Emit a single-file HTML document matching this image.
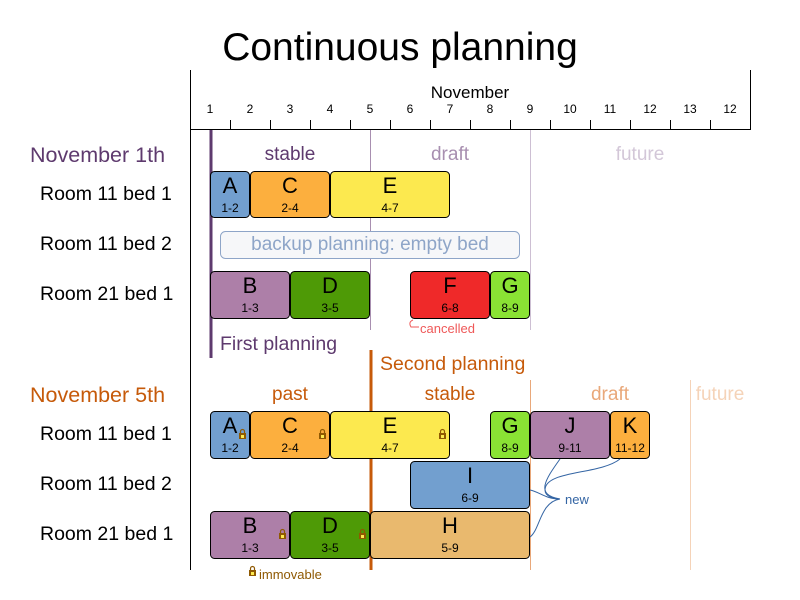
<!DOCTYPE html>
<html><head><meta charset="utf-8"><style>
html,body{margin:0;padding:0;background:#fff}
svg{display:block;font-family:"Liberation Sans",Arial,sans-serif}
</style></head><body>
<svg width="800" height="600" viewBox="0 0 800 600" xmlns="http://www.w3.org/2000/svg">
<text x="400" y="60" font-size="39" text-anchor="middle">Continuous planning</text>
<line x1="190.5" y1="70" x2="190.5" y2="570" stroke="#000"/>
<line x1="750.5" y1="70" x2="750.5" y2="130" stroke="#000"/>
<line x1="190" y1="129.5" x2="751" y2="129.5" stroke="#000"/>
<text x="470" y="98" font-size="17" text-anchor="middle">November</text>
<g font-size="12" text-anchor="middle">
<text x="210" y="113">1</text><text x="250" y="113">2</text><text x="290" y="113">3</text><text x="330" y="113">4</text><text x="370" y="113">5</text><text x="410" y="113">6</text><text x="450" y="113">7</text><text x="490" y="113">8</text><text x="530" y="113">9</text><text x="570" y="113">10</text><text x="610" y="113">11</text><text x="650" y="113">12</text><text x="690" y="113">13</text><text x="730" y="113">12</text>
</g>
<g stroke="#000">
<line x1="230.5" y1="120" x2="230.5" y2="129"/><line x1="270.5" y1="120" x2="270.5" y2="129"/><line x1="310.5" y1="120" x2="310.5" y2="129"/><line x1="350.5" y1="120" x2="350.5" y2="129"/><line x1="390.5" y1="120" x2="390.5" y2="129"/><line x1="430.5" y1="120" x2="430.5" y2="129"/><line x1="470.5" y1="120" x2="470.5" y2="129"/><line x1="510.5" y1="120" x2="510.5" y2="129"/><line x1="550.5" y1="120" x2="550.5" y2="129"/><line x1="590.5" y1="120" x2="590.5" y2="129"/><line x1="630.5" y1="120" x2="630.5" y2="129"/><line x1="670.5" y1="120" x2="670.5" y2="129"/><line x1="710.5" y1="120" x2="710.5" y2="129"/>
</g>
<line x1="370.5" y1="130" x2="370.5" y2="330" stroke="#a88fb0"/>
<line x1="530.5" y1="130" x2="530.5" y2="330" stroke="#cdbfd3"/>
<line x1="211" y1="130" x2="211" y2="358" stroke="#5e3a6e" stroke-width="3"/>
<text x="30" y="162" font-size="21.5" fill="#5e3a6e">November 1th</text>
<text x="290" y="160" font-size="19" fill="#5e3a6e" text-anchor="middle">stable</text>
<text x="450" y="160" font-size="19" fill="#a88fb0" text-anchor="middle">draft</text>
<text x="640" y="160" font-size="19" fill="#d3c7d8" text-anchor="middle">future</text>
<g font-size="19.5"><text x="40" y="200">Room 11 bed 1</text><text x="40" y="250">Room 11 bed 2</text><text x="40" y="300">Room 21 bed 1</text>
<text x="40" y="440">Room 11 bed 1</text><text x="40" y="490">Room 11 bed 2</text><text x="40" y="540">Room 21 bed 1</text></g>
<text x="220" y="350" font-size="19.5" fill="#5e3a6e">First planning</text>
<rect x="220.5" y="231.5" width="299" height="27" rx="5" fill="#f6f7f9" stroke="#8ea5c8"/>
<text x="370" y="250" font-size="19" fill="#8ea5c8" text-anchor="middle">backup planning: empty bed</text>
<g stroke="#000" stroke-width="1">
<rect x="210.5" y="171.5" width="39" height="46" rx="4" fill="#729fcf"/>
<rect x="250.5" y="171.5" width="79" height="46" rx="4" fill="#fcaf3e"/>
<rect x="330.5" y="171.5" width="119" height="46" rx="4" fill="#fce94f"/>
<rect x="210.5" y="271.5" width="79" height="47" rx="4" fill="#ad7fa8"/>
<rect x="290.5" y="271.5" width="79" height="47" rx="4" fill="#4e9a06"/>
<rect x="410.5" y="271.5" width="79" height="47" rx="4" fill="#ef2929"/>
<rect x="490.5" y="271.5" width="39" height="47" rx="4" fill="#8ae234"/>
</g>
<g text-anchor="middle">
<g font-size="22"><text x="230" y="193">A</text><text x="290" y="193">C</text><text x="390" y="193">E</text><text x="250" y="293">B</text><text x="330" y="293">D</text><text x="450" y="293">F</text><text x="510" y="293">G</text></g>
<g font-size="12"><text x="230" y="212">1-2</text><text x="290" y="212">2-4</text><text x="390" y="212">4-7</text><text x="250" y="312">1-3</text><text x="330" y="312">3-5</text><text x="450" y="312">6-8</text><text x="510" y="312">8-9</text></g>
</g>
<path d="M413 320 q-5 2 -2 7 h8" fill="none" stroke="#ef5959"/>
<text x="420" y="333" font-size="13" fill="#ef5959">cancelled</text>
<line x1="530.5" y1="380" x2="530.5" y2="570" stroke="#e9a87a"/>
<line x1="690.5" y1="380" x2="690.5" y2="570" stroke="#f5d3b8"/>
<line x1="371" y1="350" x2="371" y2="570" stroke="#c65a0a" stroke-width="3"/>
<text x="380" y="370" font-size="19.5" fill="#c65a0a">Second planning</text>
<text x="30" y="402" font-size="21.5" fill="#c65a0a">November 5th</text>
<text x="290" y="400" font-size="19" fill="#c65a0a" text-anchor="middle">past</text>
<text x="450" y="400" font-size="19" fill="#c65a0a" text-anchor="middle">stable</text>
<text x="610" y="400" font-size="19" fill="#e9a87a" text-anchor="middle">draft</text>
<text x="720" y="400" font-size="19" fill="#f5d3b8" text-anchor="middle">future</text>
<g stroke="#000">
<rect x="210.5" y="411.5" width="39" height="47" rx="4" fill="#729fcf"/>
<rect x="250.5" y="411.5" width="79" height="47" rx="4" fill="#fcaf3e"/>
<rect x="330.5" y="411.5" width="119" height="47" rx="4" fill="#fce94f"/>
<rect x="490.5" y="411.5" width="39" height="47" rx="4" fill="#8ae234"/>
<rect x="530.5" y="411.5" width="79" height="47" rx="4" fill="#ad7fa8"/>
<rect x="610.5" y="411.5" width="39" height="47" rx="4" fill="#fcaf3e"/>
<rect x="410.5" y="461.5" width="119" height="47" rx="4" fill="#729fcf"/>
<rect x="210.5" y="511.5" width="79" height="47" rx="4" fill="#ad7fa8"/>
<rect x="290.5" y="511.5" width="79" height="47" rx="4" fill="#4e9a06"/>
<rect x="370.5" y="511.5" width="159" height="47" rx="4" fill="#e9b96e"/>
</g>
<g text-anchor="middle">
<g font-size="22"><text x="230" y="433">A</text><text x="290" y="433">C</text><text x="390" y="433">E</text><text x="510" y="433">G</text><text x="570" y="433">J</text><text x="630" y="433">K</text><text x="470" y="483">I</text><text x="250" y="533">B</text><text x="330" y="533">D</text><text x="450" y="533">H</text></g>
<g font-size="12"><text x="230" y="452">1-2</text><text x="290" y="452">2-4</text><text x="390" y="452">4-7</text><text x="510" y="452">8-9</text><text x="570" y="452">9-11</text><text x="630" y="452">11-12</text><text x="470" y="502">6-9</text><text x="250" y="552">1-3</text><text x="330" y="552">3-5</text><text x="450" y="552">5-9</text></g>
</g>
<g fill="#8f5902">
<g transform="translate(239,430)"><rect x="0" y="3" width="7" height="6"/><path d="M1.5 3 v-1.5 a2 2 0 0 1 4 0 v1.5" fill="none" stroke="#8f5902" stroke-width="1.2"/><rect x="2" y="5" width="3" height="3" fill="#fce94f"/></g>
<g transform="translate(319,430)"><rect x="0" y="3" width="7" height="6"/><path d="M1.5 3 v-1.5 a2 2 0 0 1 4 0 v1.5" fill="none" stroke="#8f5902" stroke-width="1.2"/><rect x="2" y="5" width="3" height="3" fill="#fce94f"/></g>
<g transform="translate(439,430)"><rect x="0" y="3" width="7" height="6"/><path d="M1.5 3 v-1.5 a2 2 0 0 1 4 0 v1.5" fill="none" stroke="#8f5902" stroke-width="1.2"/><rect x="2" y="5" width="3" height="3" fill="#fce94f"/></g>
<g transform="translate(279,530)"><rect x="0" y="3" width="7" height="6"/><path d="M1.5 3 v-1.5 a2 2 0 0 1 4 0 v1.5" fill="none" stroke="#8f5902" stroke-width="1.2"/><rect x="2" y="5" width="3" height="3" fill="#fce94f"/></g>
<g transform="translate(359,530)"><rect x="0" y="3" width="7" height="6"/><path d="M1.5 3 v-1.5 a2 2 0 0 1 4 0 v1.5" fill="none" stroke="#8f5902" stroke-width="1.2"/><rect x="2" y="5" width="3" height="3" fill="#fce94f"/></g>
<g transform="translate(249,567)"><rect x="0" y="3" width="7" height="6"/><path d="M1.5 3 v-1.5 a2 2 0 0 1 4 0 v1.5" fill="none" stroke="#8f5902" stroke-width="1.2"/><rect x="2" y="5" width="3" height="3" fill="#fce94f"/></g>
</g>
<text x="259" y="579" font-size="13" fill="#8f5902">immovable</text>
<g fill="none" stroke="#3465a4" stroke-width="1">
<path d="M560 459 C545 480 535 495 560 499"/>
<path d="M620 459 C600 475 545 470 545 490 C545 497 555 499 560 499"/>
<path d="M530 490 C540 492 545 499 560 499"/>
<path d="M530 537 C540 530 540 502 560 499"/>
</g>
<text x="565" y="504" font-size="13" fill="#3465a4">new</text>
</svg>
</body></html>
